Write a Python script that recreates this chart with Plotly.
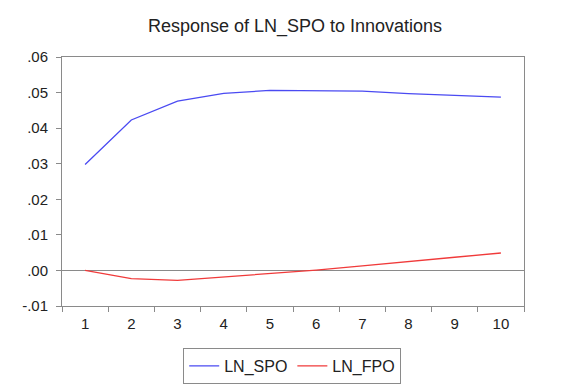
import plotly.graph_objects as go

periods = [1, 2, 3, 4, 5, 6, 7, 8, 9, 10]
ln_spo = [0.0298, 0.0423, 0.0476, 0.0498, 0.0506, 0.0506, 0.0504, 0.0497, 0.0492, 0.0487]
ln_fpo = [0.0000, -0.0023, -0.0028, -0.0019, -0.0009, 0.0001, 0.0013, 0.0026, 0.0037, 0.0049]
y_tickvals = [-0.01, 0.0, 0.01, 0.02, 0.03, 0.04, 0.05, 0.06]
y_ticktext = ["-.01", ".00", ".01", ".02", ".03", ".04", ".05", ".06"]

fig = go.Figure()
fig.add_trace(go.Scatter(x=periods, y=ln_spo, mode="lines", name="LN_SPO",
                         line=dict(color="#4a4af2", width=1.3)))
fig.add_trace(go.Scatter(x=periods, y=ln_fpo, mode="lines", name="LN_FPO",
                         line=dict(color="#f03a3a", width=1.3)))

fig.update_layout(
    width=588, height=391,
    margin=dict(l=54, r=72, t=49, b=93),
    paper_bgcolor="white", plot_bgcolor="white",
    font=dict(family="Liberation Sans, Arial, sans-serif", color="#222222", size=14),
    title=dict(text="Response of LN_SPO to Innovations", x=287 / 588, xanchor="center",
               y=1 - 18 / 391, yanchor="middle", font=dict(size=18, color="#222222")),
    showlegend=True,
    legend=dict(orientation="h", x=293 / 588, xanchor="center", y=1 - 340 / 391,
                yref="container", yanchor="top",
                bordercolor="#8a8a8a", borderwidth=1, font=dict(size=16),
                itemwidth=30),
)

fig.update_xaxes(
    range=[0.5, 10.5],
    tickmode="array", tickvals=periods, ticktext=[str(p) for p in periods],
    ticks="", showgrid=False, zeroline=False, ticklabelstandoff=4,
    showline=True, linecolor="#8a8a8a", linewidth=1, mirror=True,
    tickfont=dict(size=15),
    minor=dict(tickmode="array", tickvals=[p + 0.5 for p in [0] + periods],
               ticks="outside", ticklen=5, tickcolor="#8a8a8a", showgrid=False),
)
fig.update_yaxes(
    range=[-0.01, 0.06],
    tickmode="array", tickvals=y_tickvals, ticktext=y_ticktext,
    ticks="outside", ticklen=5, tickcolor="#8a8a8a", ticklabelstandoff=5,
    showgrid=False, zeroline=True, zerolinecolor="#8a8a8a", zerolinewidth=1,
    showline=True, linecolor="#8a8a8a", linewidth=1, mirror=True,
    tickfont=dict(size=15),
)

fig.write_html("out.html")
